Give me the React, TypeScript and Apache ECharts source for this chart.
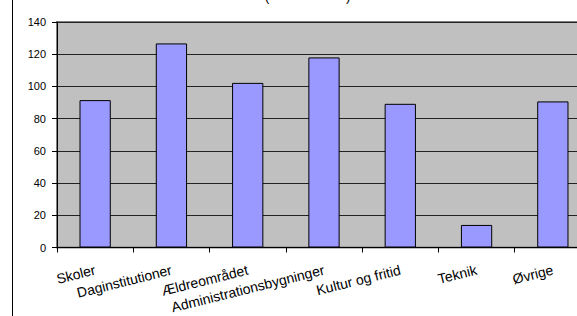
import React, { useEffect, useRef } from "react";
import * as echarts from "echarts";

const categories = [
  "Skoler",
  "Daginstitutioner",
  "Ældreområdet",
  "Administrationsbygninger",
  "Kultur og fritid",
  "Teknik",
  "Øvrige",
];
const values = [91.5, 126.7, 102.2, 118, 89.2, 14, 90.7];
const yTicks = { min: 0, max: 140, interval: 20 };

export default function App() {
  const ref = useRef<HTMLDivElement>(null);
  useEffect(() => {
    if (!ref.current) return;
    const chart = echarts.init(ref.current, null, { renderer: "svg" });
    chart.setOption({
      animation: false,
      backgroundColor: "#ffffff",
      textStyle: { fontFamily: "Liberation Sans, Arial, sans-serif" },
      graphic: [
        {
          type: "line",
          shape: { x1: 12.5, y1: 0, x2: 12.5, y2: 316 },
          style: { stroke: "#000", lineWidth: 1 },
        },
        {
          type: "text",
          x: 265,
          y: -10,
          style: { text: "(", fontSize: 13, fill: "#000", fontFamily: "Liberation Sans, Arial, sans-serif" },
        },
        {
          type: "text",
          x: 346,
          y: -10,
          style: { text: ")", fontSize: 13, fill: "#000", fontFamily: "Liberation Sans, Arial, sans-serif" },
        },
      ],
      grid: {
        left: 57,
        top: 22,
        right: 620 - 591,
        bottom: 316 - 247.5,
        show: true,
        backgroundColor: "#C0C0C0",
        borderColor: "#808080",
        borderWidth: 2,
      },
      xAxis: {
        type: "category",
        data: categories,
        axisLine: { show: true, lineStyle: { color: "#000", width: 1 } },
        axisTick: { show: true, alignWithLabel: false, length: 5, lineStyle: { color: "#000" } },
        axisLabel: {
          interval: 0,
          rotate: 14,
          margin: 22,
          fontSize: 14,
          color: "#000",
          fontFamily: "Liberation Sans, Arial, sans-serif",
        },
        splitLine: { show: false },
      },
      yAxis: {
        type: "value",
        min: yTicks.min,
        max: yTicks.max,
        interval: yTicks.interval,
        axisLine: { show: true, lineStyle: { color: "#000", width: 1 } },
        axisTick: { show: true, length: 5, lineStyle: { color: "#000" } },
        axisLabel: {
          margin: 11,
          fontSize: 11,
          color: "#000",
          fontFamily: "Liberation Sans, Arial, sans-serif",
        },
        splitLine: { show: true, lineStyle: { color: "#222", width: 1 } },
      },
      series: [
        {
          type: "bar",
          data: values,
          barWidth: "41%",
          itemStyle: { color: "#9999FF", borderColor: "#000", borderWidth: 1 },
        },
      ],
    });
    return () => chart.dispose();
  }, []);
  return (
    <div
      style={{
        position: "absolute",
        left: 0,
        top: 0,
        width: 577,
        height: 316,
        overflow: "hidden",
        background: "#fff",
      }}
    >
      <div ref={ref} style={{ width: 620, height: 316 }} />
    </div>
  );
}
